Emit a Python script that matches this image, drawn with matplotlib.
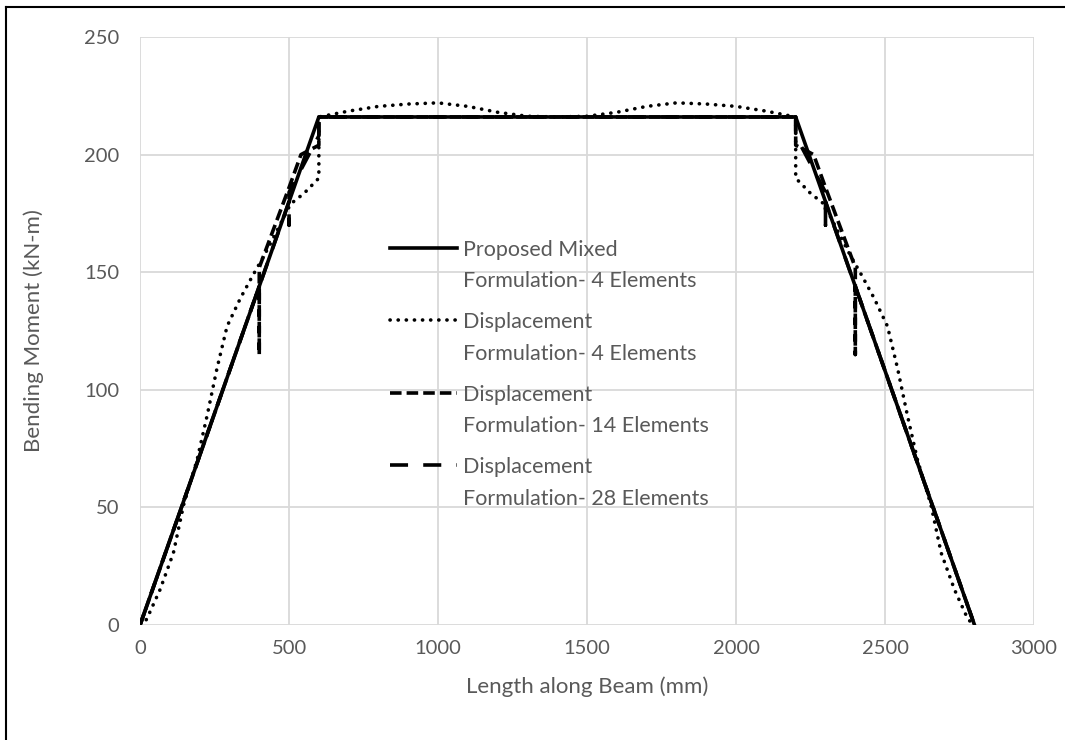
import matplotlib
matplotlib.use("Agg")
import matplotlib.pyplot as plt
from matplotlib.lines import Line2D

plt.rcParams["font.family"] = ["Lato", "DejaVu Sans"]

# Proposed mixed formulation, 4 elements
mixed_x = [0, 600, 2200, 2800]
mixed_y = [0, 216, 216, 0]

# Displacement formulation, 4 elements
disp4_x = [0, 22, 67, 112, 146, 191, 225, 258, 292, 337, 380, 416, 449, 505, 550, 600, 600,
           700, 800, 900, 1000, 1100, 1200, 1300, 1400, 1500, 1600, 1700, 1800, 1900, 2000, 2100, 2200,
           2200, 2250, 2295, 2351, 2384, 2420, 2463, 2508, 2542, 2575, 2609, 2654, 2688, 2733, 2778, 2800]
disp4_y = [0, 2.4, 15, 30.7, 51, 70, 89, 109, 127, 139, 149, 157, 165, 179, 183.5, 190, 216,
           218.5, 220.5, 221.5, 222, 220.5, 218, 216.3, 216, 216.3, 218, 220.5, 222, 221.5, 220.5, 218.5, 216,
           190, 183.5, 179, 165, 157, 149, 139, 127, 109, 89, 70, 51, 30.7, 15, 2.4, 0]

# Displacement formulation, 14 elements
disp14_x = [0, 400, 400, 400, 500, 540, 600, 600, 2200, 2200, 2260, 2300, 2400, 2400, 2400, 2800]
disp14_y = [0, 144, 115, 152, 186, 200, 204, 216, 216, 204, 200, 186, 152, 115, 144, 0]

# Displacement formulation, 28 elements
disp28_x = [0, 500, 500, 500, 600, 600, 2200, 2200, 2300, 2300, 2300, 2800]
disp28_y = [0, 180, 170, 184, 208, 216, 216, 208, 184, 170, 180, 0]

labels = ["Proposed Mixed\nFormulation- 4 Elements",
          "Displacement\nFormulation- 4 Elements",
          "Displacement\nFormulation- 14 Elements",
          "Displacement\nFormulation- 28 Elements"]

grey = "#595959"

fig = plt.figure(figsize=(10.65, 7.4), dpi=100)
ax = fig.add_axes([0.1315, 0.1554, 0.8395, 0.7946])

ax.plot(mixed_x, mixed_y, color="black", linewidth=2.6, label=labels[0], zorder=5)
ax.plot(disp4_x, disp4_y, color="black", linewidth=2.6, linestyle=(0, (0.05, 2.2)),
        dash_capstyle="round", label=labels[1], zorder=4)
ax.plot(disp14_x, disp14_y, color="black", linewidth=2.6, linestyle=(0, (3.2, 1.4)),
        label=labels[2], zorder=4)
ax.plot(disp28_x, disp28_y, color="black", linewidth=2.6, linestyle=(0, (5.0, 4.2)),
        label=labels[3], zorder=4)

ax.set_xlim(0, 3000)
ax.set_ylim(0, 250)
ax.set_xticks(range(0, 3001, 500))
ax.set_yticks(range(0, 251, 50))
ax.grid(True, color="#d9d9d9", linewidth=1.3)
ax.set_axisbelow(True)
for s in ax.spines.values():
    s.set_visible(False)
ax.tick_params(length=0, labelsize=14.5, labelcolor=grey)
ax.tick_params(axis="x", pad=11)
ax.tick_params(axis="y", pad=15)
ax.set_xlabel("Length along Beam (mm)", fontsize=16, color=grey, labelpad=14)
ax.set_ylabel("Bending Moment (kN-m)", fontsize=16, color=grey, labelpad=29)

leg = ax.legend(loc="upper left", bbox_to_anchor=(0.2796, 0.655), frameon=False,
                fontsize=15.5, handlelength=3.1, handletextpad=0.3,
                labelspacing=0.99, borderpad=0, borderaxespad=0)
for t in leg.get_texts():
    t.set_color(grey)
    t.set_linespacing(1.7)
# put each legend line level with the first row of its label
for ln in leg.get_lines():
    yd = ln.get_ydata()
    ln.set_ydata([y + 13 for y in yd])

# outer border (left and top only, as in the source image)
fig.add_artist(Line2D([0.0056, 0.0056], [0, 0.9905], transform=fig.transFigure,
                      color="black", linewidth=1.5))
fig.add_artist(Line2D([0.0056, 1], [0.9905, 0.9905], transform=fig.transFigure,
                      color="black", linewidth=1.5))

fig.savefig("out.png", dpi=100)
